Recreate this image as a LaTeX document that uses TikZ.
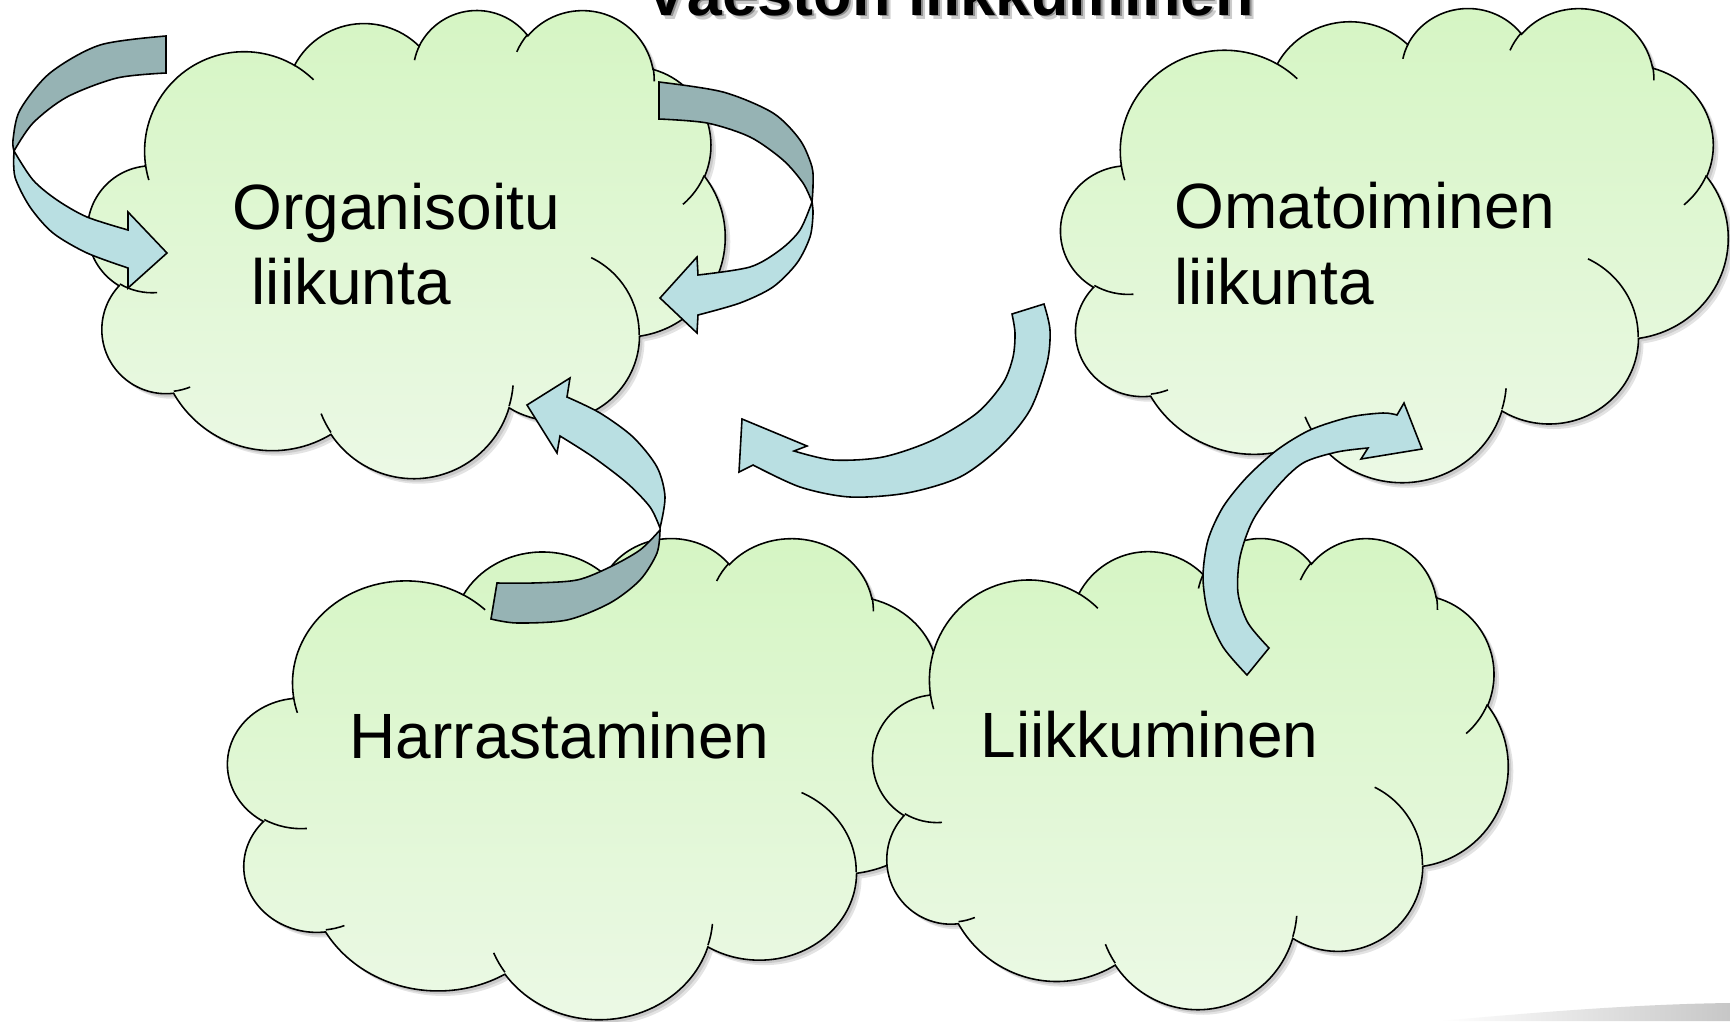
\documentclass[tikz,border=0pt]{standalone}
\usepackage{fontspec}
\setmainfont{Liberation Sans}
\definecolor{cloudtop}{RGB}{213,245,195}
\definecolor{cloudbot}{RGB}{236,249,230}
\definecolor{arrlight}{RGB}{185,223,226}
\definecolor{arrdark}{RGB}{150,179,180}
\pgfmathdeclarefunction{vang}{3}{\pgfmathparse{atan2((#2)*sin(#1),(#3)*cos(#1))}}
\newcommand\carc[4]{arc[x radius={#1*0.01cm}, y radius={#2*0.01cm}, start angle={vang(#3,#1,#2)}, delta angle={mod(vang((#3)+(#4),#1,#2)-vang(#3,#1,#2)+720,360)}]}
\newcommand\cloudpath{(3.900,14.370)
 \carc{6.753}{9.190}{-190.48748}{123.78053}
 \carc{5.333}{7.267}{-144.10238}{89.94523}
 \carc{4.365}{5.945}{-145.80792}{99.72302}
 \carc{4.857}{6.595}{-130.98607}{117.24173}
 \carc{5.333}{7.273}{-78.70888}{109.02692}
 \carc{6.775}{9.220}{-46.26725}{130.269}
 \carc{5.785}{7.867}{0.62502}{114.03333}
 \carc{6.752}{9.215}{22.4516}{115.17255}
 \carc{7.720}{10.543}{66.24263}{75.71102}
 \carc{4.360}{5.918}{-274.94208}{146.73557}
 \carc{4.345}{5.945}{-246.8285}{152.51885}
 -- cycle}
\newcommand\cloudstubs{
 (4.693,26.177) \carc{4.345}{5.945}{86.742}{26.4295}
 (6.928,34.899) \carc{4.360}{5.918}{73.61047}{11.44747}
 (16.478,39.090) \carc{6.752}{9.215}{137.62415}{14.0811}
 (28.827,34.751) \carc{6.752}{9.215}{6.45327}{15.99835}
 (34.129,22.954) \carc{5.785}{7.867}{-70.29235}{70.91737}
 (41.798,15.354) \carc{5.333}{7.273}{30.31803}{27.7515}
 (38.324,5.426) \carc{4.857}{6.595}{-13.74433}{14.8589}
 (29.078,3.952) \carc{4.857}{6.595}{-149.18145}{18.19537}
 (22.141,4.720) \carc{4.365}{5.945}{-163.49427}{17.68635}
 (14.000,5.192) \carc{6.753}{9.190}{-66.70695}{12.31935}
 (4.127,15.789) \carc{6.753}{9.190}{157.65435}{11.85817}}
\tikzset{
 outl/.style={draw=black, line width=0.45pt},
 cloudbody/.style={outl, top color=cloudtop, bottom color=cloudbot},
 cloudshadow/.style={fill=black, opacity=0.11},
 arrlightst/.style={outl, fill=arrlight},
 arrdarkst/.style={outl, fill=arrdark},
 lbl/.style={anchor=base west, inner sep=0pt, font=\fontsize{18.2}{21}\selectfont},
 titlest/.style={anchor=base west, inner sep=0pt, font=\fontsize{17.9}{20}\selectfont\bfseries}
}
\newcommand\cloudshape[4]{%
 \begin{scope}[shift={(#1+3,#2+3)}, xscale=#3/43.2, yscale=#4/43.2]
  \path[cloudshadow] \cloudpath;
 \end{scope}
 \begin{scope}[shift={(#1+5,#2+5)}, xscale=#3/43.2, yscale=#4/43.2]
  \path[cloudshadow] \cloudpath;
 \end{scope}
 \begin{scope}[shift={(#1,#2)}, xscale=#3/43.2, yscale=#4/43.2]
  \path[cloudbody] \cloudpath;
  \draw[line width=0.45pt] \cloudstubs;
 \end{scope}}
\begin{document}
\begin{tikzpicture}[x=0.01cm, y=0.01cm]
\begin{scope}[yscale=-1]
\useasboundingbox (0,0) rectangle (1730,1021);
\clip (0,0) rectangle (1730,1021);
\fill[white] (0,0) rectangle (1730,1021);
\shade[left color=white, right color=black!22] (1440,1021) .. controls (1560,1010) and (1650,1004) .. (1730,1003) -- (1730,1021) -- cycle;
% clouds
\cloudshape{88}{9}{637}{468}
\node[lbl] (org1) at (232,229) {Organisoitu};
\node[lbl] (org2) at (251,304) {liikunta};
\cloudshape{1061}{7}{667}{474}
\node[lbl] (oma1) at (1174,228) {Omatoiminen};
\node[lbl] (oma2) at (1174,304) {liikunta};
\cloudshape{228}{537}{726}{481}
\node[lbl] (har) at (349,758) {Harrastaminen};
\cloudshape{873}{537}{635}{471}
\node[lbl] (lii) at (980,757) {Liikkuminen};
% arrow 1 (top left)
\path[arrdarkst] plot[smooth] coordinates {(166,36) (100,45) (50,73) (20,110) (13,140) (14,151)}
  -- plot[smooth] coordinates {(14,151) (33,123) (67,97) (117,78) (166,73)} -- cycle;
\path[arrlightst] plot[smooth] coordinates {(14,151) (33,180) (57,200) (87,217) (128,230)}
  -- (128,212) -- (167,253) -- (128,288) -- (128,268)
  -- plot[smooth] coordinates {(128,268) (87,253) (53,233) (30,207) (15,177) (14,151)} -- cycle;
% arrow 2 (top right of first cloud)
\path[arrdarkst] plot[smooth] coordinates {(659,82) (723,92) (773,113) (800,140) (812,167) (813,186) (812,202)}
  -- plot[smooth] coordinates {(812,202) (803,183) (783,160) (750,137) (707,123) (659,119)} -- cycle;
\path[arrlightst] plot[smooth] coordinates {(812,202) (813,214) (810,237) (797,263) (773,287) (740,303) (698,315)}
  -- (697,333) -- (660,298) -- (697,257) -- (698,275)
  -- plot[smooth] coordinates {(698,275) (750,267) (780,250) (800,230) (812,202)} -- cycle;
% arrow 3 (middle)
\path[arrlightst] plot[smooth] coordinates {(1044,304) (1050,330) (1047,363) (1030,410) (1000,447) (960,477) (907,493) (850,497) (800,487) (753,465)}
  -- (739,472) -- (742,419) -- (807,446) -- (794,451)
  -- plot[smooth] coordinates {(794,451) (833,460) (883,457) (933,440) (977,413) (1003,383) (1013,357) (1015,333) (1012,314)} -- cycle;
% arrow 4 (Harrastaminen -> Organisoitu)
\path[arrdarkst] plot[smooth] coordinates {(497,583) (533,583) (577,580) (610,567) (640,550) (660,530)}
  -- plot[smooth] coordinates {(660,530) (657,553) (640,580) (610,603) (567,620) (517,623) (491,619)} -- cycle;
\path[arrlightst] plot[smooth] coordinates {(660,528) (665,497) (657,467) (633,437) (600,413) (567,397)}
  -- (570,378) -- (527,405) -- (557,453) -- (560,436)
  -- plot[smooth] coordinates {(560,436) (593,457) (627,483) (650,507) (660,528)} -- cycle;
% arrow 5 (Liikkuminen -> Omatoiminen)
\path[arrlightst] plot[smooth] coordinates {(1247,675) (1223,647) (1208,613) (1203,577) (1208,540) (1223,507) (1247,477) (1277,450) (1310,430) (1350,417) (1383,413) (1397,415)}
  -- (1404,403) -- (1422,449) -- (1361,459) -- (1368,448)
  -- plot[smooth] coordinates {(1368,448) (1337,452) (1303,463) (1277,487) (1253,520) (1240,557) (1238,593) (1248,623) (1269,648)} -- cycle;
% title
\node[titlest, text=black, opacity=0.2] (tsh2) at (649,19) {Väestön liikkuminen};
\node[titlest, text=black, opacity=0.3] (tsh1) at (647,17) {Väestön liikkuminen};
\node[titlest, text=black] (title) at (645,15) {Väestön liikkuminen};
\end{scope}
\end{tikzpicture}
\end{document}
